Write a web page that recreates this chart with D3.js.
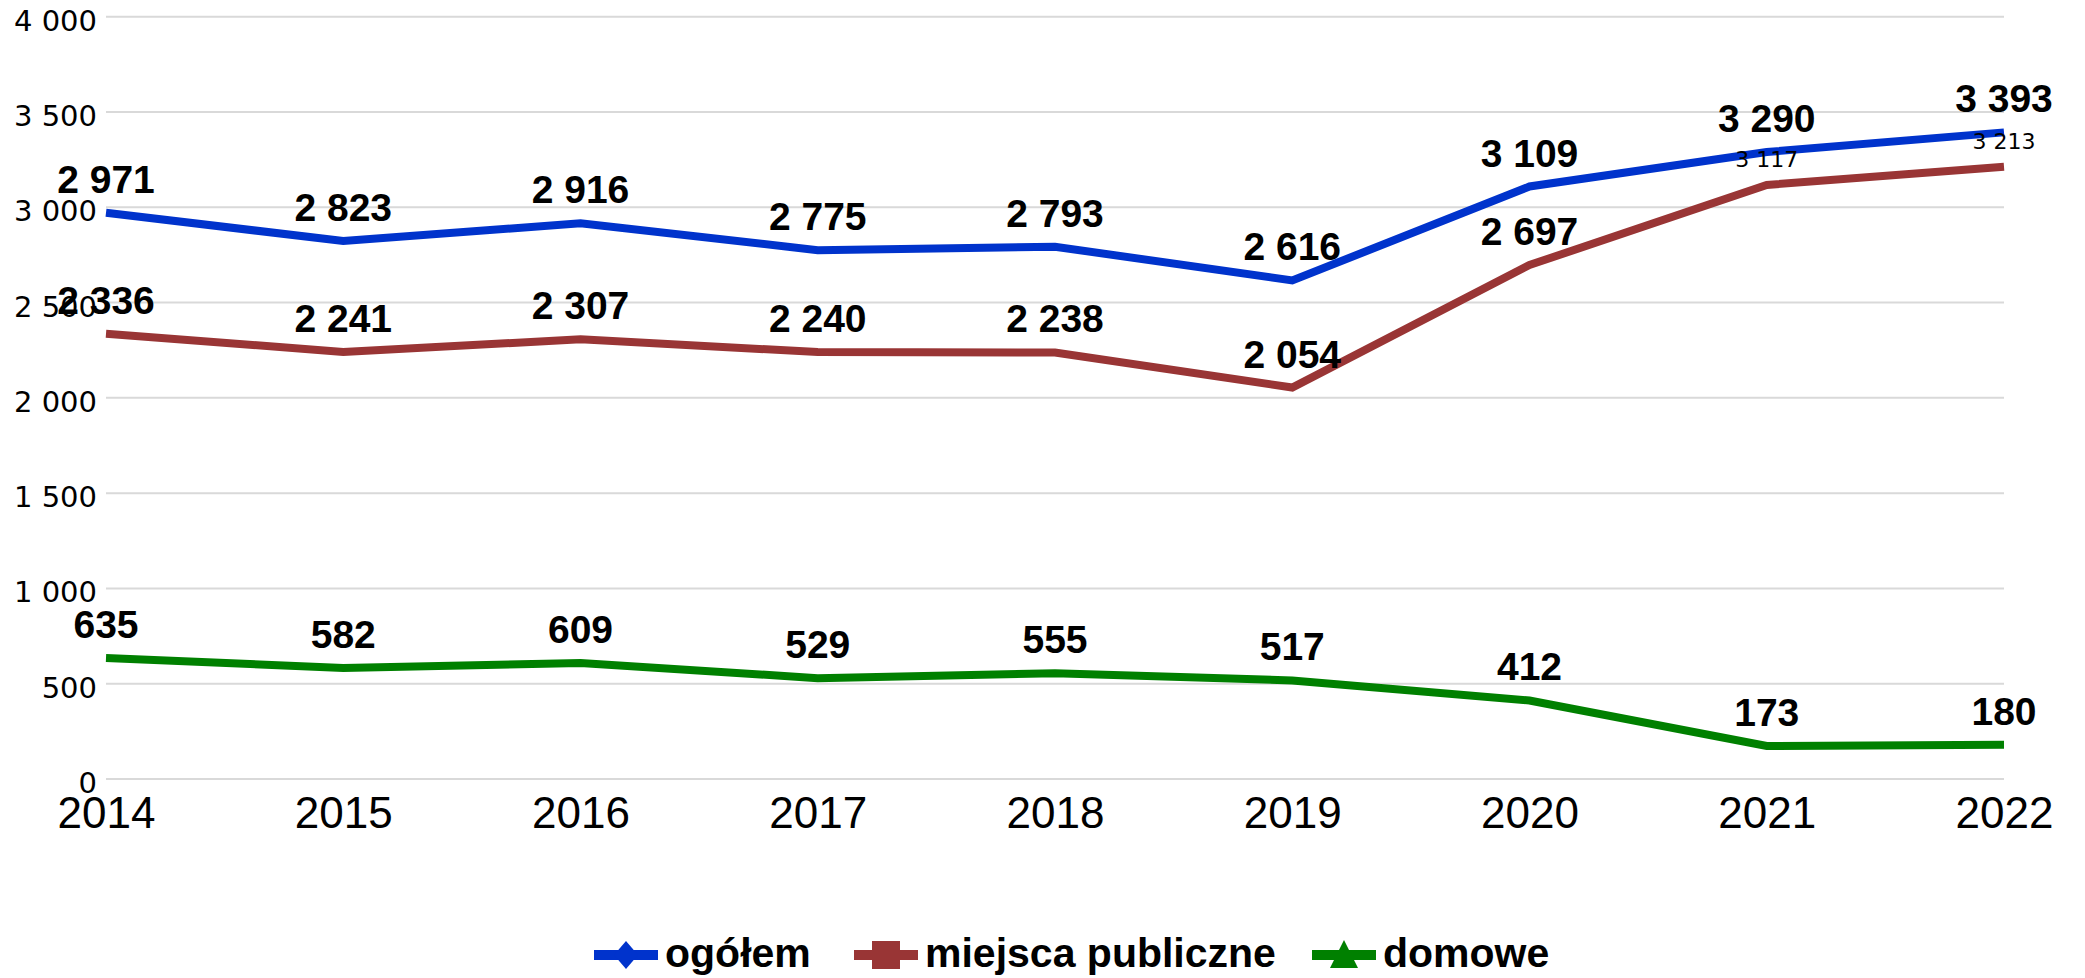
<!DOCTYPE html>
<html>
<head>
<meta charset="utf-8">
<script src="https://cdn.jsdelivr.net/npm/d3@7"></script>
<style>
  body { margin: 0; background: #fff; }
  svg { display: block; }
</style>
</head>
<body>
<div class="content"></div>
<script>
var size = {width: 2085, height: 978};
var plotArea = {left: 106, right: 2004, top: 16.7, bottom: 779};

var years = ["2014", "2015", "2016", "2017", "2018", "2019", "2020", "2021", "2022"];
var ogolem = [2971, 2823, 2916, 2775, 2793, 2616, 3109, 3290, 3393];
var publiczne = [2336, 2241, 2307, 2240, 2238, 2054, 2697, 3117, 3213];
var domowe = [635, 582, 609, 529, 555, 517, 412, 173, 180];
var yTicks = [0, 500, 1000, 1500, 2000, 2500, 3000, 3500, 4000];
// labels drawn small and regular in the original
var smallLabels = {"miejsca publiczne": ["2021", "2022"]};

var series = [
    {name: "ogółem", values: ogolem, color: "#0033cc", marker: "diamond"},
    {name: "miejsca publiczne", values: publiczne, color: "#993535", marker: "square"},
    {name: "domowe", values: domowe, color: "#008000", marker: "triangle"}
];

var fmt = d3.formatLocale({decimal: ",", thousands: " ", grouping: [3], currency: ["", " zł"]}).format(",d");

var chart = d3.select('.content')
    .append('svg')
    .attr('width', size.width)
    .attr('height', size.height);

var xScale = d3.scalePoint()
    .domain(years)
    .range([plotArea.left, plotArea.right]);
var yScale = d3.scaleLinear()
    .domain([0, 4000])
    .range([plotArea.bottom, plotArea.top]);

// gridlines
chart.append('g')
    .selectAll('line')
    .data(yTicks)
    .enter().append('line')
    .attr('x1', plotArea.left)
    .attr('x2', plotArea.right)
    .attr('y1', function(d) { return yScale(d); })
    .attr('y2', function(d) { return yScale(d); })
    .attr('stroke', '#d9d9d9')
    .attr('stroke-width', 2);

// y axis labels
var yAxis = d3.axisLeft(yScale).tickValues(yTicks).tickFormat(fmt).tickSize(0).tickPadding(0);
var yAxisObj = chart.append('g')
    .attr('transform', 'translate(97,0)')
    .call(yAxis);
yAxisObj.select('.domain').remove();
yAxisObj.selectAll('text')
    .attr('dy', null)
    .attr('y', 13.5)
    .attr('fill', '#000')
    .style('font-family', '"DejaVu Sans", sans-serif')
    .style('font-size', '29px');

// x axis labels
var xAxis = d3.axisBottom(xScale).tickSize(0).tickPadding(0);
var xAxisObj = chart.append('g')
    .attr('transform', 'translate(0,' + plotArea.bottom + ')')
    .call(xAxis);
xAxisObj.select('.domain').remove();
xAxisObj.selectAll('text')
    .attr('dy', null)
    .attr('y', 49)
    .attr('fill', '#000')
    .style('font-family', '"Liberation Sans", Arial, sans-serif')
    .style('font-size', '44px');

var line = d3.line()
    .x(function(d, i) { return xScale(years[i]); })
    .y(function(d) { return yScale(d); });

series.forEach(function(s) {
    chart.append('path')
        .datum(s.values)
        .attr('d', line)
        .attr('fill', 'none')
        .attr('stroke', s.color)
        .attr('stroke-width', 8);
});

series.forEach(function(s) {
    var small = smallLabels[s.name] || [];
    chart.append('g')
        .selectAll('text')
        .data(s.values)
        .enter().append('text')
        .attr('x', function(d, i) { return xScale(years[i]); })
        .attr('y', function(d, i) { return yScale(d) - (small.indexOf(years[i]) >= 0 ? 18 : 20); })
        .attr('text-anchor', 'middle')
        .attr('fill', '#000')
        .style('font-family', function(d, i) { return small.indexOf(years[i]) >= 0 ? '"DejaVu Sans", sans-serif' : '"Liberation Sans", Arial, sans-serif'; })
        .style('font-weight', function(d, i) { return small.indexOf(years[i]) >= 0 ? 'normal' : 'bold'; })
        .style('font-size', function(d, i) { return small.indexOf(years[i]) >= 0 ? '22px' : '39px'; })
        .text(function(d) { return fmt(d); });
});

// legend
var legendX = [594, 854, 1312];
var legendY = 955;
var legend = chart.append('g');
series.forEach(function(s, i) {
    var g = legend.append('g').attr('transform', 'translate(' + legendX[i] + ',' + legendY + ')');
    g.append('line')
        .attr('x1', 0).attr('x2', 64)
        .attr('y1', 0).attr('y2', 0)
        .attr('stroke', s.color)
        .attr('stroke-width', 10);
    var path;
    if (s.marker === 'diamond') path = 'M32,-14L44,0L32,14L20,0Z';
    else if (s.marker === 'square') path = 'M18,-14H46V14H18Z';
    else path = 'M32,-15L46,13H18Z';
    g.append('path').attr('d', path).attr('fill', s.color);
    g.append('text')
        .attr('x', 71)
        .attr('y', 12)
        .attr('fill', '#000')
        .style('font-family', '"Liberation Sans", Arial, sans-serif')
        .style('font-weight', 'bold')
        .style('font-size', '41px')
        .text(s.name);
});
</script>
</body>
</html>
